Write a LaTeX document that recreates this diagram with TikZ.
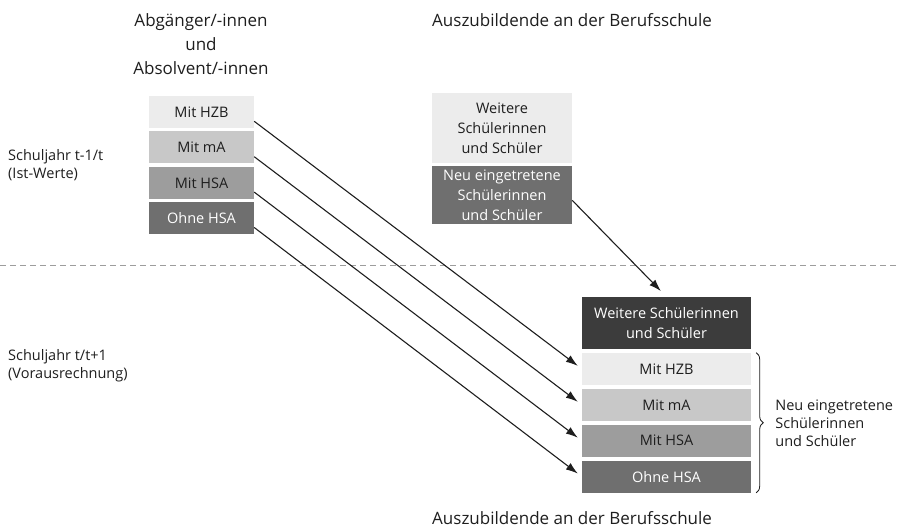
\documentclass[tikz,border=0pt]{standalone}
\usepackage{fontspec}
\setmainfont{Open Sans}
\usepackage{tikz}
\usetikzlibrary{arrows.meta,positioning,decorations.pathreplacing}
\definecolor{shadeA}{HTML}{ECECEC}
\definecolor{shadeB}{HTML}{C8C8C8}
\definecolor{shadeC}{HTML}{9D9D9D}
\definecolor{shadeD}{HTML}{6F6F6F}
\definecolor{shadeE}{HTML}{3C3C3C}
\definecolor{ink}{HTML}{1E1E1E}

\begin{document}
\begin{tikzpicture}[x=1pt, y=1pt, font=\fontsize{14.5}{20}\selectfont, text=ink,
  cat/.style={minimum width=105pt, minimum height=32pt, inner sep=0pt, align=center},
  wide/.style={minimum width=169pt, minimum height=32pt, inner sep=0pt, align=center},
  mid/.style={minimum width=140pt, inner sep=0pt, align=center},
  head/.style={inner sep=0pt, font=\fontsize{17}{24}\selectfont},
  lbl/.style={align=left, anchor=west, inner sep=0pt, font=\fontsize{14.5}{18}\selectfont},
  arr/.style={-{Latex[length=12pt, width=8pt]}, line width=1.1pt, draw=ink, shorten >=5pt}]
\useasboundingbox (0,0) rectangle (900,-530);
% headings
\node[head, align=center] (hleft) at (201,-44) {Abgänger/-innen\\und\\Absolvent/-innen};
\node[head, anchor=west] (htop) at (432,-20) {Auszubildende an der Berufsschule};
\node[head, anchor=west] (hbot) at (432,-518) {Auszubildende an der Berufsschule};
% school years
\node[lbl] (yrold) at (8,-165) {Schuljahr t-1/t\\(Ist-Werte)};
\node[lbl] (yrnew) at (8,-366) {Schuljahr t/t+1\\(Vorausrechnung)};
\draw[draw=shadeC, line width=1pt, dash pattern=on 6pt off 4pt] (0,-265) -- (900,-265);
% leavers
\node[cat, fill=shadeA] (a1) at (201.5,-112) {Mit HZB};
\node[cat, fill=shadeB, below=3pt of a1] (a2) {Mit mA};
\node[cat, fill=shadeC, below=3pt of a2] (a3) {Mit HSA};
\node[cat, fill=shadeD, text=white, below=3pt of a3] (a4) {Ohne HSA};
% vocational school, last year
\node[mid, fill=shadeA, minimum height=70pt] (b1) at (502,-128) {Weitere\\Schülerinnen\\und Schüler};
\node[mid, fill=shadeD, text=white, minimum height=58pt, below=3pt of b1] (b2) {Neu eingetretene\\Schülerinnen\\und Schüler};
% vocational school, next year
\node[wide, fill=shadeE, text=white, minimum height=52pt] (c0) at (666.5,-323) {Weitere Schülerinnen\\und Schüler};
\node[wide, fill=shadeA, below=3.5pt of c0] (c1) {Mit HZB};
\node[wide, fill=shadeB, below=3.5pt of c1] (c2) {Mit mA};
\node[wide, fill=shadeC, below=3.5pt of c2] (c3) {Mit HSA};
\node[wide, fill=shadeD, text=white, below=3.5pt of c3] (c4) {Ohne HSA};
\foreach \i in {1,...,4}
  \draw[arr] (a\i.-10) -- (c\i.west);
\draw[arr, shorten >=8pt] (b2.-4) -- (c0.north);
% brace
\draw[draw=ink, line width=0.8pt, decorate, decoration={brace, amplitude=7pt}]
  ([xshift=5pt]c1.north east) -- ([xshift=5pt]c4.south east) coordinate[midway] (bmid);
\node[lbl] (newlbl) at ([xshift=19pt]bmid) {Neu eingetretene\\Schülerinnen\\und Schüler};
\end{tikzpicture}
\end{document}
